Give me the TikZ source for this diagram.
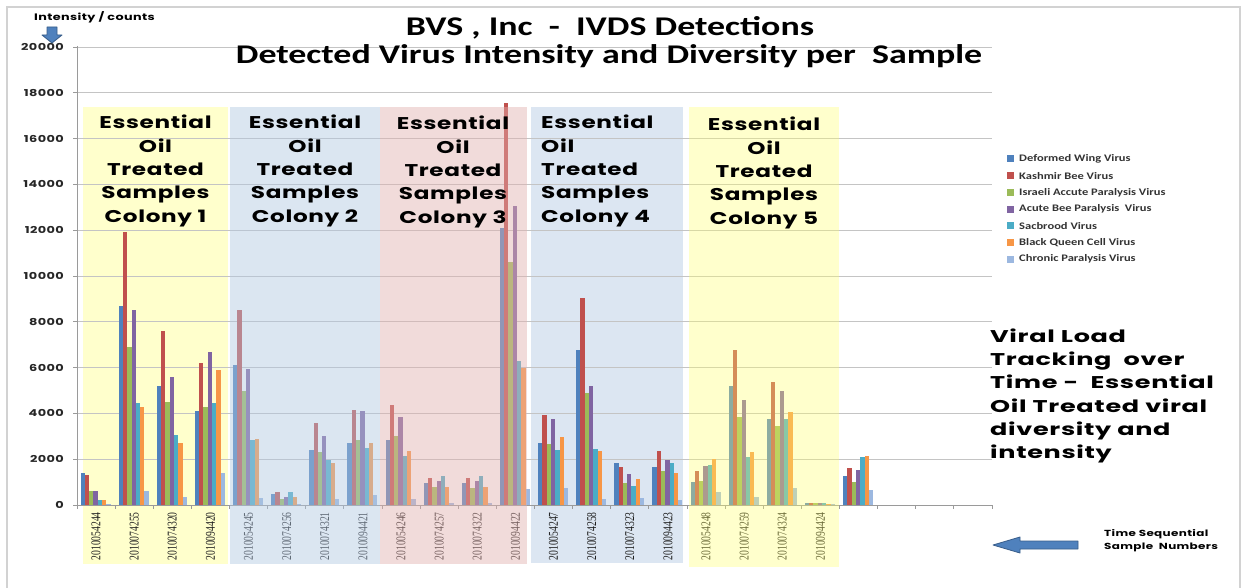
\documentclass[tikz,border=0pt]{standalone}
\usepackage{fontspec}
\usepackage{graphicx}
\newfontfamily\comicfont[FakeStretch=1.36,LetterSpace=4]{Poppins}
\newfontfamily\notefont[FakeStretch=1.5,LetterSpace=4]{Poppins}
\newfontfamily\califont[FakeStretch=1.25]{Carlito}
\newfontfamily\headfont[FakeStretch=1.33]{Carlito}
\newfontfamily\numfont{Liberation Serif}
% series colours
\definecolor{col0}{HTML}{4F81BD}
\definecolor{col1}{HTML}{C0504D}
\definecolor{col2}{HTML}{9BBB59}
\definecolor{col3}{HTML}{8064A2}
\definecolor{col4}{HTML}{4BACC6}
\definecolor{col5}{HTML}{F79646}
\definecolor{col6}{HTML}{9CB8E0}
% colony band colours
\definecolor{bandyellow}{HTML}{FFFFCC}
\definecolor{bandblue}{HTML}{DCE6F2}
\definecolor{ovblue}{RGB}{177,200,226}
\definecolor{ovpink}{RGB}{226,177,175}
\definecolor{ovyellow}{RGB}{255,255,109}
\definecolor{gridc}{HTML}{C4C4C4}
\definecolor{axisc}{HTML}{9A9A9A}
\definecolor{framec}{HTML}{D2D2D2}
\definecolor{arrowfill}{HTML}{4F81BD}
\definecolor{arrowline}{HTML}{385D8A}
\tikzset{
  gridline/.style={draw=gridc, line width=0.8pt},
  axisline/.style={draw=axisc, line width=0.8pt},
  ylab/.style={anchor=east, inner sep=0pt, font=\comicfont\bfseries\fontsize{9.5}{10}\selectfont, text=black!85},
  xlab/.style={rotate=90, anchor=east, inner sep=0pt, font=\numfont\fontsize{9.6}{10}\selectfont, text=black!88},
  bandtext/.style={inner sep=0pt, font=\comicfont\bfseries\fontsize{17}{23.3}\selectfont, text=black},
  notetext/.style={inner sep=0pt, font=\notefont\bfseries\fontsize{17}{23.3}\selectfont, text=black},
  legtext/.style={anchor=west, inner sep=0pt, font=\califont\bfseries\fontsize{10}{11}\selectfont, text=black!80},
  titletext/.style={inner sep=0pt, font=\headfont\bfseries\fontsize{27}{30}\selectfont, text=black},
  blockarrow/.style={fill=arrowfill, draw=arrowline, line width=0.8pt, line join=round},
}
\begin{document}
\begin{tikzpicture}[x=1pt,y=-1pt]
\useasboundingbox (0,0) rectangle (1244,588);
\fill[white] (0,0) rectangle (1244,588);
% slide frame
\draw[framec, line width=1.6pt] (7,588) -- (7,7) -- (1240,7) -- (1240,588);

% colony bands lying behind the bars
\fill[bandyellow] (83,107) rectangle (228,564);
\fill[bandblue] (531,107) rectangle (683,563);

% gridlines and value ticks (values in thousands, 22.9 units per thousand)
\foreach \t in {2,4,...,20}{
  \draw[gridline] (77,{505-\t*22.9}) -- (992,{505-\t*22.9});
}
\foreach \t/\lab [count=\i from 0] in {0/0,2/2000,4/4000,6/6000,8/8000,10/10000,12/12000,14/14000,16/16000,18/18000,20/20000}{
  \draw[axisline] (73,{505-\t*22.9}) -- (77,{505-\t*22.9});
  \node[ylab] (yl\i) at (64,{505-\t*22.9}) {\lab};
}

% bars: one cluster of seven series per sample (values in thousands)
\foreach \vals [count=\k] in {
  {1.4,1.3,0.6,0.6,0.2,0.2,0.03},
  {8.7,11.9,6.9,8.5,4.45,4.3,0.6},
  {5.2,7.6,4.5,5.6,3.05,2.7,0.33},
  {4.1,6.2,4.3,6.7,4.45,5.9,1.4},
  {6.1,8.5,5.0,5.95,2.85,2.9,0.3},
  {0.5,0.55,0.26,0.33,0.55,0.33,0.04},
  {2.4,3.6,2.3,3.0,1.95,1.85,0.25},
  {2.7,4.15,2.85,4.1,2.5,2.7,0.45},
  {2.85,4.35,3.0,3.85,2.15,2.35,0.26},
  {0.95,1.2,0.8,1.05,1.25,0.8,0.07},
  {0.95,1.2,0.75,1.06,1.25,0.77,0.07},
  {12.1,17.55,10.6,13.05,6.3,6.0,0.7},
  {2.7,3.95,2.65,3.75,2.4,2.95,0.75},
  {6.75,9.05,4.9,5.2,2.45,2.35,0.26},
  {1.85,1.65,0.95,1.35,0.85,1.15,0.3},
  {1.65,2.35,1.5,1.95,1.85,1.4,0.22},
  {1.0,1.5,1.05,1.7,1.75,2.0,0.55},
  {5.2,6.75,3.85,4.6,2.1,2.3,0.35},
  {3.75,5.35,3.45,5.0,3.75,4.05,0.75},
  {0.1,0.1,0.08,0.08,0.08,0.06,0.03},
  {1.25,1.6,1.0,1.55,2.1,2.15,0.65}}{
  \foreach \v [count=\j from 0] in \vals {
    \pgfmathsetmacro\xl{77+(\k-1)*38.125+3.5+\j*4.3}
    \fill[fill=col\j] (\xl,505) rectangle ({\xl+4.3},{505-\v*22.9});
  }
}

% axes
\draw[axisline] (77,46) -- (77,505);
\draw[axisline] (77,505) -- (992,505);
\foreach \k in {0,...,24}{
  \draw[axisline] ({77+\k*38.125},505) -- ({77+\k*38.125},509);
}

% sample numbers
\foreach \lab [count=\k] in {2010054244,2010074255,2010074320,2010094420,
  2010054245,2010074256,2010074321,2010094421,
  2010054246,2010074257,2010074322,2010094422,
  2010054247,2010074258,2010074323,2010094423,
  2010054248,2010074259,2010074324,2010094424}{
  \node[xlab] (xl\k) at ({77+(\k-0.5)*38.125},512) {\scalebox{1}[1.4]{\lab}};
}

% translucent colony bands laid over the bars
\fill[ovblue, opacity=0.45] (230,107) rectangle (380,564);
\fill[ovpink, opacity=0.45] (380,107) rectangle (527,564);
\fill[ovyellow, opacity=0.35] (689,107) rectangle (839,567);

% colony captions
\node[bandtext, align=center] (c1) at (155.5,171) {Essential\\Oil\\Treated\\Samples\\Colony 1};
\node[bandtext, align=center] (c2) at (305,171) {Essential\\Oil\\Treated\\Samples\\Colony 2};
\node[bandtext, align=center] (c3) at (453,172) {Essential\\Oil\\Treated\\Samples\\Colony 3};
\node[bandtext, align=left, anchor=west] (c4) at (541,171) {Essential\\Oil\\Treated\\Samples\\Colony 4};
\node[bandtext, align=center] (c5) at (764,173) {Essential\\Oil\\Treated\\Samples\\Colony 5};

% titles
\node[titletext] (t1) at (610,28) {BVS , Inc~~-~~IVDS Detections};
\node[titletext] (t2) at (609,56) {Detected Virus Intensity and Diversity per~~Sample};

% value axis caption and its arrow
\node[anchor=west, inner sep=0pt, font=\comicfont\bfseries\fontsize{9.4}{10}\selectfont] (ylabel) at (34,17) {Intensity / counts};
\draw[blockarrow] (47,27) -- (57,27) -- (57,35) -- (62,35) -- (52,43) -- (42,35) -- (47,35) -- cycle;

% legend
\foreach \name [count=\i from 0] in {Deformed Wing Virus,Kashmir Bee Virus,Israeli Accute Paralysis Virus,Acute Bee Paralysis~~Virus,Sacbrood Virus,Black Queen Cell Virus,Chronic Paralysis Virus}{
  \fill[col\i] (1007,{159+\i*16.7-3.5}) rectangle (1014,{159+\i*16.7+3.5});
  \node[legtext] (lg\i) at (1019,{159+\i*16.7}) {\name};
}

% side note
\node[notetext, align=left, anchor=west] (note) at (990,396) {Viral Load\\Tracking~~over\\Time -~~Essential\\Oil Treated viral\\diversity and\\intensity};

% sample axis caption and its arrow
\node[anchor=west, align=left, inner sep=0pt, font=\comicfont\bfseries\fontsize{8.8}{13}\selectfont] (xlabel) at (1104,541) {Time Sequential\\Sample~~Numbers};
\draw[blockarrow] (993,545) -- (1020,537) -- (1020,541) -- (1078,541) -- (1078,549) -- (1020,549) -- (1020,553) -- cycle;
\end{tikzpicture}
\end{document}
